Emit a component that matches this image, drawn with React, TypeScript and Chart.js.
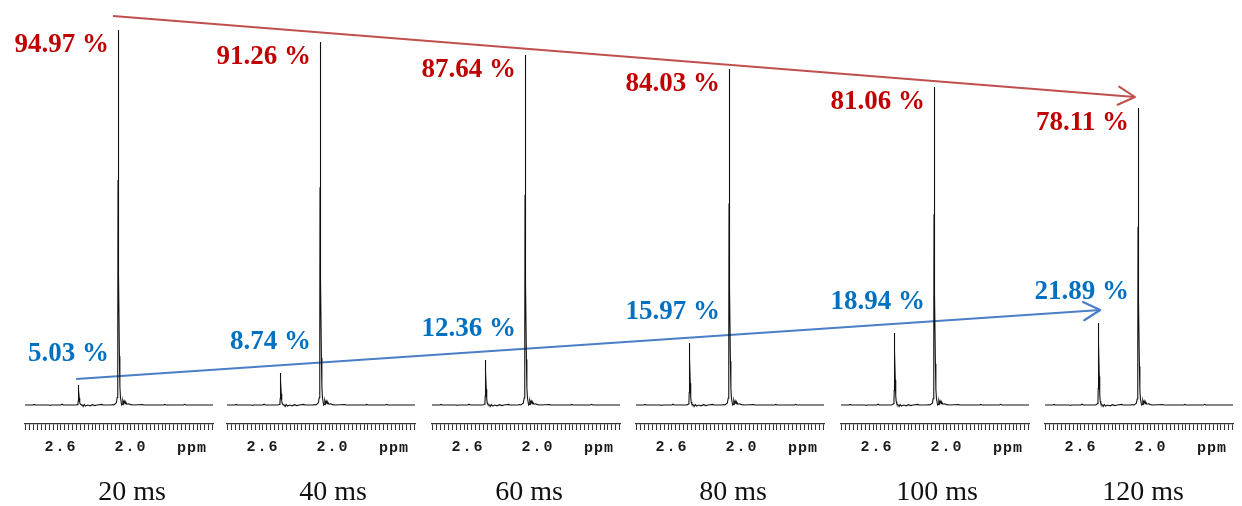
import React, { useEffect, useRef } from 'react';
import { Chart, registerables } from 'chart.js';
Chart.register(...registerables);

// ---------- data ----------
const TIMES_MS = [20, 40, 60, 80, 100, 120];
const MAJOR_PCT = [94.97, 91.26, 87.64, 84.03, 81.06, 78.11];
const MINOR_PCT = [5.03, 8.74, 12.36, 15.97, 18.94, 21.89];
// peak heights (arbitrary intensity units)
const MAJOR_HEIGHT = [375, 363, 350, 336, 318, 297];
const MINOR_HEIGHT = [20, 32, 45, 62, 72, 82];
const MAJOR_PPM = 2.11;
const MINOR_PPM = 2.45;
// peak line shape: [offset to lower ppm, relative intensity]
const PEAK_PROFILE: [number, number][] = [
  [-0.03, 0], [-0.015, 0.006], [-0.008, 0.02], [-0.004, 0.06], [-0.002, 0.2],
  [-0.001, 0.6], [0, 1], [0.003, 0.75], [0.007, 0.35], [0.011, 0.13],
  [0.015, 0.05], [0.02, 0.02], [0.03, 0],
];
// baseline with small noise bumps: [ppm, intensity]
const BASELINE: [number, number][] = [
  [2.908, 0], [2.84, 0], [2.83, 0.6], [2.82, 0], [2.7, 0], [2.69, -0.5], [2.68, 0],
  [2.6, 0], [2.59, 0.8], [2.58, 0], [2.415, 0], [2.41, -1.5], [2.4, 0.6], [2.39, -1],
  [2.37, 0], [2.35, -0.8], [2.33, 0.3], [2.31, -0.6], [2.29, 0], [2.25, 0.6], [2.24, 0],
  [2.17, 0], [2.16, 0.4], [2.145, 0], [2.075, 0.5], [2.07, 4.5], [2.064, 1.5],
  [2.058, 4], [2.05, 1.2], [2.045, 3], [2.035, 0.8], [2.02, 1.2], [2.005, 0.4],
  [1.98, 0], [1.9, 0.5], [1.89, 0], [1.72, 0], [1.71, 0.6], [1.7, 0], [1.55, 0],
  [1.54, 0.7], [1.53, 0], [1.297, 0],
];
const PPM_MIN = 1.297;
const PPM_MAX = 2.908;
const PPM_TICK_LABELS = [2.6, 2.0];
const RULER_STEP = 1 / 30;
const INTENSITY_MIN = -19;
const INTENSITY_MAX = 385;
// trend arrows: x in ms, y in %
const RED_ARROW = [{ x: 20, y: 94.97 }, { x: 120, y: 78.11 }];
const BLUE_ARROW = [{ x: 16.4, y: 5.03 }, { x: 116.6, y: 21.89 }];

// ---------- layout ----------
const W = 1242;
const H = 506;
const PANEL_LEFT = [25, 227, 432, 636, 841, 1045];
const PANEL_W = 188;
const PAD_L = 110;
const PAD_R = 12;
const CAP_DX = [13, 12, 3, 3, 2, 4];

const RED_TEXT = '#C00000';
const BLUE_TEXT = '#0070C0';
const RED_LINE = '#C0504D';
const BLUE_LINE = '#4A7EC7';

function spectrum(i: number) {
  const pts: { x: number; y: number }[] = [];
  const peaks = [
    { c: MAJOR_PPM, h: MAJOR_HEIGHT[i] },
    { c: MINOR_PPM, h: MINOR_HEIGHT[i] },
  ];
  BASELINE.forEach(([p, v]) => {
    if (peaks.every((pk) => Math.abs(p - pk.c) > 0.03)) pts.push({ x: p, y: v });
  });
  peaks.forEach((pk) => {
    PEAK_PROFILE.forEach(([o, r]) => pts.push({ x: pk.c - o, y: r * pk.h }));
  });
  pts.sort((a, b) => b.x - a.x);
  return pts;
}

function Panel({ i }: { i: number }) {
  const ref = useRef<HTMLCanvasElement>(null);
  useEffect(() => {
    if (!ref.current) return;
    const annot = {
      id: 'annot',
      beforeDraw(chart: any) {
        try { chart.ctx.letterSpacing = '2px'; } catch (e) {}
      },
      beforeDatasetsDraw(chart: any) {
        try { chart.ctx.letterSpacing = '0px'; } catch (e) {}
      },
      afterDraw(chart: any) {
        const { ctx, chartArea } = chart;
        const x = chart.scales.x;
        const y = chart.scales.y;
        const px = x.getPixelForValue(MAJOR_PPM);
        const majorTop = y.getPixelForValue(MAJOR_HEIGHT[i]);
        const minorTop = y.getPixelForValue(MINOR_HEIGHT[i]);
        ctx.save();
        try { ctx.letterSpacing = '0px'; } catch (e) {}
        ctx.textBaseline = 'alphabetic';
        ctx.textAlign = 'right';
        ctx.font = 'bold 27px "Liberation Serif"';
        ctx.fillStyle = RED_TEXT;
        ctx.fillText(`${MAJOR_PCT[i].toFixed(2)} %`, px - 9, majorTop + 22);
        ctx.fillStyle = BLUE_TEXT;
        ctx.fillText(`${MINOR_PCT[i].toFixed(2)} %`, px - 9, minorTop - 24);
        ctx.textAlign = 'center';
        try { ctx.letterSpacing = '1px'; } catch (e) {}
        ctx.font = 'bold 15px "Liberation Mono"';
        ctx.fillStyle = '#1a1a1a';
        ctx.fillText('ppm', chartArea.right - 21, chartArea.bottom + 28);
        try { ctx.letterSpacing = '0px'; } catch (e) {}
        ctx.font = '28px "Liberation Serif"';
        ctx.fillStyle = '#111';
        ctx.fillText(`${TIMES_MS[i]} ms`, (chartArea.left + chartArea.right) / 2 + CAP_DX[i], chartArea.bottom + 76);
        ctx.restore();
      },
    };
    const chart = new Chart(ref.current, {
      type: 'line',
      data: {
        datasets: [
          {
            data: spectrum(i),
            borderColor: '#111',
            borderWidth: 1.1,
            pointRadius: 0,
            tension: 0,
            fill: false,
          },
        ],
      },
      options: {
        animation: false,
        responsive: false,
        events: [],
        layout: { padding: { left: PAD_L, right: PAD_R, top: 20, bottom: 0 } },
        plugins: { legend: { display: false }, tooltip: { enabled: false } },
        scales: {
          x: {
            type: 'linear',
            reverse: true,
            min: PPM_MIN,
            max: PPM_MAX,
            afterBuildTicks: (s: any) => {
              const t: { value: number }[] = [];
              for (let k = Math.ceil(PPM_MIN / RULER_STEP); k * RULER_STEP <= PPM_MAX; k++) {
                t.push({ value: k * RULER_STEP });
              }
              s.ticks = t;
            },
            afterFit: (s: any) => {
              s.height = H - 424;
            },
            grid: {
              drawOnChartArea: false,
              drawTicks: true,
              tickLength: 6,
              tickColor: '#333',
              tickWidth: 1,
              color: '#333',
            },
            border: { display: true, color: '#333', width: 1.3 },
            ticks: {
              autoSkip: false,
              maxRotation: 0,
              minRotation: 0,
              padding: 8,
              color: '#1a1a1a',
              font: { family: 'Liberation Mono', weight: 'bold', size: 15 },
              callback: (v: any) => {
                const l = PPM_TICK_LABELS.find((p) => Math.abs(p - Number(v)) < 1e-6);
                return l === undefined ? '' : l.toFixed(1);
              },
            },
          },
          y: { display: false, min: INTENSITY_MIN, max: INTENSITY_MAX },
        },
      } as any,
      plugins: [annot],
    });
    return () => chart.destroy();
  }, [i]);
  const w = PAD_L + PANEL_W + PAD_R;
  return (
    <canvas
      ref={ref}
      width={w}
      height={H}
      style={{ position: 'absolute', left: PANEL_LEFT[i] - PAD_L, top: 0, width: w, height: H, display: 'block' }}
    />
  );
}

function Arrows() {
  const ref = useRef<HTMLCanvasElement>(null);
  useEffect(() => {
    if (!ref.current) return;
    const heads = {
      id: 'heads',
      afterDatasetsDraw(chart: any) {
        const ctx = chart.ctx;
        chart.data.datasets.forEach((ds: any, di: number) => {
          const pts = chart.getDatasetMeta(di).data;
          const a = pts[pts.length - 2];
          const b = pts[pts.length - 1];
          const ang = Math.atan2(b.y - a.y, b.x - a.x);
          const L = 19;
          const sp = 0.5;
          ctx.save();
          ctx.strokeStyle = ds.borderColor;
          ctx.lineWidth = ds.borderWidth;
          ctx.lineCap = 'round';
          ctx.lineJoin = 'round';
          ctx.beginPath();
          ctx.moveTo(b.x - L * Math.cos(ang - sp), b.y - L * Math.sin(ang - sp));
          ctx.lineTo(b.x, b.y);
          ctx.lineTo(b.x - L * Math.cos(ang + sp), b.y - L * Math.sin(ang + sp));
          ctx.stroke();
          ctx.restore();
        });
      },
    };
    const chart = new Chart(ref.current, {
      type: 'line',
      data: {
        datasets: [
          { data: RED_ARROW, yAxisID: 'yR', borderColor: RED_LINE, borderWidth: 2, pointRadius: 0, clip: false },
          { data: BLUE_ARROW, yAxisID: 'yB', borderColor: BLUE_LINE, borderWidth: 2.2, pointRadius: 0, clip: false },
        ],
      },
      options: {
        animation: false,
        responsive: false,
        events: [],
        layout: { padding: 0 },
        plugins: { legend: { display: false }, tooltip: { enabled: false } },
        scales: {
          x: { type: 'linear', display: false, min: 8.943, max: 130.47 },
          yR: { type: 'linear', display: false, min: -7.03, max: 98.3 },
          yB: { type: 'linear', display: false, min: -26.0, max: 97.64 },
        },
      } as any,
      plugins: [heads],
    });
    return () => chart.destroy();
  }, []);
  return (
    <canvas
      ref={ref}
      width={W}
      height={H}
      style={{ position: 'absolute', left: 0, top: 0, width: W, height: H, display: 'block' }}
    />
  );
}

export default function App() {
  useEffect(() => {
    document.body.style.margin = '0';
    document.body.style.background = '#fff';
  }, []);
  return (
    <div style={{ position: 'relative', width: W, height: H, overflow: 'hidden', background: '#fff' }}>
      <Arrows />
      {TIMES_MS.map((_, i) => (
        <Panel key={i} i={i} />
      ))}
    </div>
  );
}
